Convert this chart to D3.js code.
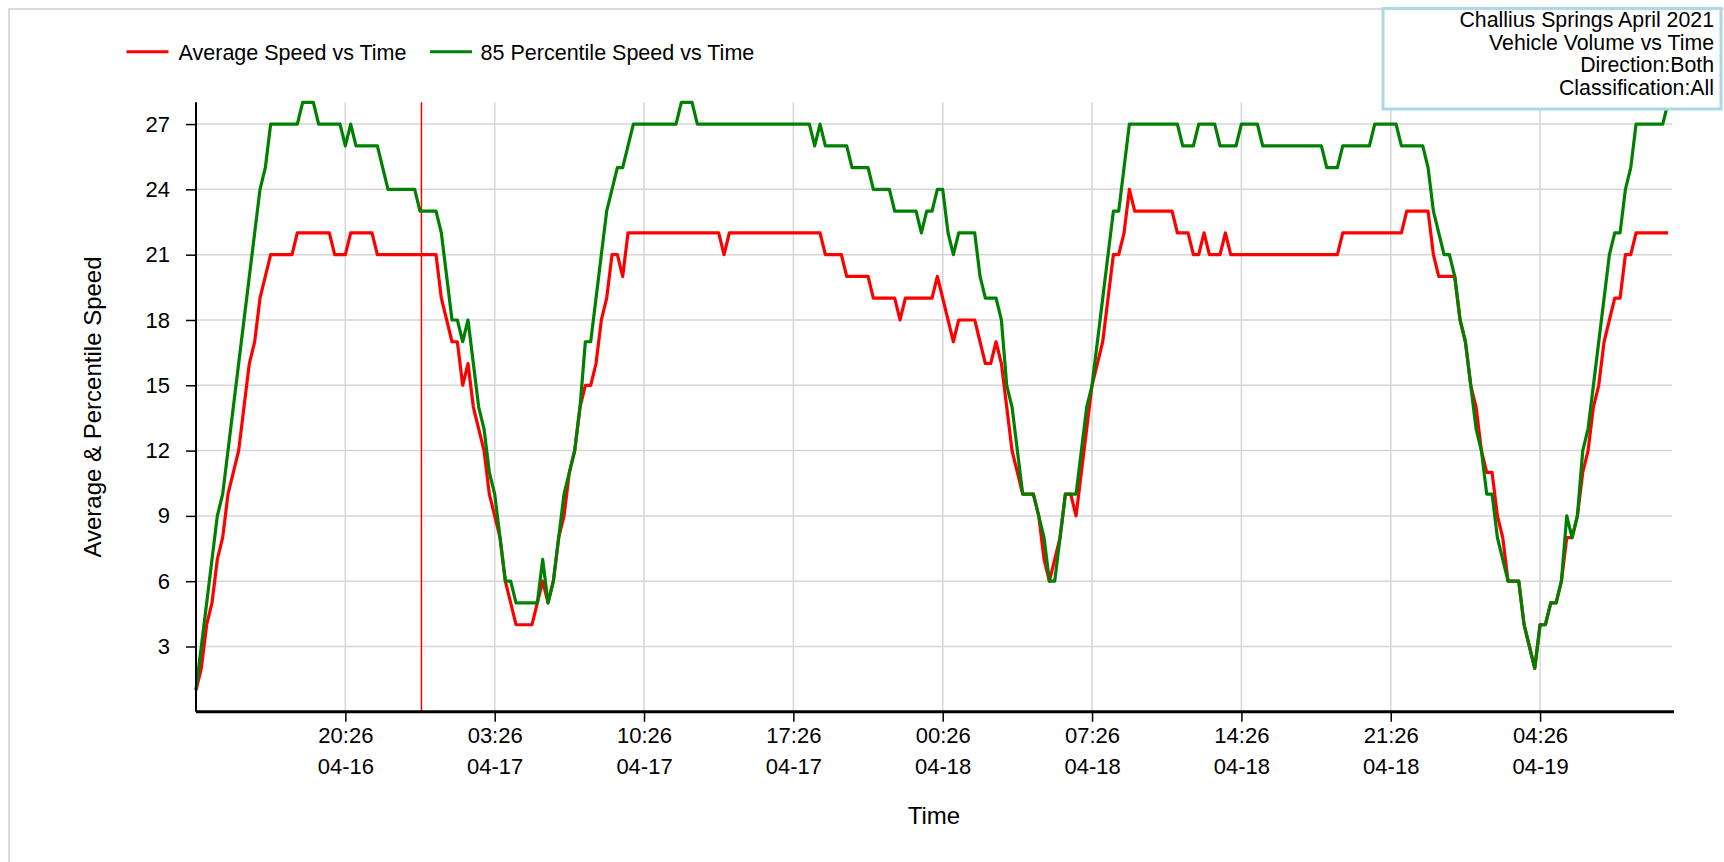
<!DOCTYPE html>
<html>
<head>
<meta charset="utf-8">
<script src="https://cdn.jsdelivr.net/npm/d3@7"></script>
<style>
  body { margin: 0; background: #fff; }
  svg { display: block; }
  text { font-family: "Liberation Sans", Arial, sans-serif; fill: #000; }
</style>
</head>
<body>
<svg id="chart" width="1724" height="862"></svg>
<script>
// ---------------- DATA ----------------
const startTime = "2021-04-16 13:26";   // first sample
const sampleMinutes = 15;                // one sample every 15 minutes

const avgSpeed = [
  1,2,4,5,7,8,10,11,12,14,
  16,17,19,20,21,21,21,21,21,22,
  22,22,22,22,22,22,21,21,21,22,
  22,22,22,22,21,21,21,21,21,21,
  21,21,21,21,21,21,19,18,17,17,
  15,16,14,13,12,10,9,8,6,5,
  4,4,4,4,5,6,5,6,8,9,
  11,12,14,15,15,16,18,19,21,21,
  20,22,22,22,22,22,22,22,22,22,
  22,22,22,22,22,22,22,22,22,21,
  22,22,22,22,22,22,22,22,22,22,
  22,22,22,22,22,22,22,22,21,21,
  21,21,20,20,20,20,20,19,19,19,
  19,19,18,19,19,19,19,19,19,20,
  19,18,17,18,18,18,18,17,16,16,
  17,16,14,12,11,10,10,10,9,7,
  6,7,8,10,10,9,11,13,15,16,
  17,19,21,21,22,24,23,23,23,23,
  23,23,23,23,22,22,22,21,21,22,
  21,21,21,22,21,21,21,21,21,21,
  21,21,21,21,21,21,21,21,21,21,
  21,21,21,21,21,22,22,22,22,22,
  22,22,22,22,22,22,22,23,23,23,
  23,23,21,20,20,20,20,18,17,15,
  14,12,11,11,9,8,6,6,6,4,
  3,2,4,4,5,5,6,8,8,9,
  11,12,14,15,17,18,19,19,21,21,
  22,22,22,22,22,22,22
];

const p85Speed = [
  1,3,5,7,9,10,12,14,16,18,
  20,22,24,25,27,27,27,27,27,27,
  28,28,28,27,27,27,27,27,26,27,
  26,26,26,26,26,25,24,24,24,24,
  24,24,23,23,23,23,22,20,18,18,
  17,18,16,14,13,11,10,8,6,6,
  5,5,5,5,5,7,5,6,8,10,
  11,12,14,17,17,19,21,23,24,25,
  25,26,27,27,27,27,27,27,27,27,
  27,28,28,28,27,27,27,27,27,27,
  27,27,27,27,27,27,27,27,27,27,
  27,27,27,27,27,27,26,27,26,26,
  26,26,26,25,25,25,25,24,24,24,
  24,23,23,23,23,23,22,23,23,24,
  24,22,21,22,22,22,22,20,19,19,
  19,18,15,14,12,10,10,10,9,8,
  6,6,8,10,10,10,12,14,15,17,
  19,21,23,23,25,27,27,27,27,27,
  27,27,27,27,27,26,26,26,27,27,
  27,27,26,26,26,26,27,27,27,27,
  26,26,26,26,26,26,26,26,26,26,
  26,26,25,25,25,26,26,26,26,26,
  26,27,27,27,27,27,26,26,26,26,
  26,25,23,22,21,21,20,18,17,15,
  13,12,10,10,8,7,6,6,6,4,
  3,2,4,4,5,5,6,9,8,9,
  12,13,15,17,19,21,22,22,24,25,
  27,27,27,27,27,27,28
];

const xTickTimes = [
  "2021-04-16 20:26","2021-04-17 03:26","2021-04-17 10:26",
  "2021-04-17 17:26","2021-04-18 00:26","2021-04-18 07:26",
  "2021-04-18 14:26","2021-04-18 21:26","2021-04-19 04:26"
];
const yTicks = [3,6,9,12,15,18,21,24,27];
const xDomain = ["2021-04-16 13:26","2021-04-19 10:37"];
const yDomain = [0, 28];
const markerTime = "2021-04-17 00:00";

const seriesNames = ["Average Speed vs Time", "85 Percentile Speed vs Time"];
const seriesColors = ["#ff0000", "#008000"];
const titleLines = ["Challius Springs April 2021","Vehicle Volume vs Time","Direction:Both","Classification:All"];
const xTitle = "Time";
const yTitle = "Average & Percentile Speed";

// ---------------- DRAW ----------------
const parse = d3.timeParse("%Y-%m-%d %H:%M");
const t0 = parse(startTime);
const svg = d3.select("#chart");
const plot = { left: 196, right: 1672, top: 102.3, bottom: 711.8 };

const x = d3.scaleTime().domain(xDomain.map(parse)).range([plot.left, plot.right]);
const y = d3.scaleLinear().domain(yDomain).range([plot.bottom, plot.top]);

const toPoints = arr => arr.map((v, i) => ({ t: d3.timeMinute.offset(t0, i * sampleMinutes), v }));
const series = [toPoints(avgSpeed), toPoints(p85Speed)];
const xTicks = xTickTimes.map(parse);

// chart control border (left & top visible)
svg.append("path").attr("d", "M9,862 V9 H1724")
  .attr("fill", "none").attr("stroke", "#cfcfcf").attr("stroke-width", 1.5);

// gridlines
const grid = svg.append("g");
grid.selectAll("line.h").data(yTicks).join("line")
  .attr("x1", plot.left).attr("x2", plot.right)
  .attr("y1", d => y(d)).attr("y2", d => y(d))
  .attr("stroke", "#d6d6d6").attr("stroke-width", 1.5);
grid.selectAll("line.v").data(xTicks).join("line")
  .attr("x1", d => x(d)).attr("x2", d => x(d))
  .attr("y1", plot.top).attr("y2", plot.bottom)
  .attr("stroke", "#d6d6d6").attr("stroke-width", 1.5);

// marker line
const mt = parse(markerTime);
svg.append("line")
  .attr("x1", x(mt)).attr("x2", x(mt))
  .attr("y1", plot.top).attr("y2", plot.bottom)
  .attr("stroke", "#ff0000").attr("stroke-width", 1.5);

// series
const line = d3.line().x(d => x(d.t)).y(d => y(d.v));
series.forEach((s, k) => {
  svg.append("path").datum(s)
    .attr("d", line)
    .attr("fill", "none")
    .attr("stroke", seriesColors[k])
    .attr("stroke-width", 3.2)
    .attr("stroke-linejoin", "round");
});

// x axis
const fmtTime = d3.timeFormat("%H:%M"), fmtDay = d3.timeFormat("%m-%d");
const xAxis = d3.axisBottom(x).tickValues(xTicks).tickSize(10).tickFormat("");
const gx = svg.append("g").attr("transform", `translate(0,${plot.bottom})`).call(xAxis);
gx.select(".domain").attr("stroke", "#000").attr("stroke-width", 3)
  .attr("d", `M${plot.left},0H${plot.right + 2}`);
gx.selectAll(".tick line").attr("stroke", "#000").attr("stroke-width", 1.5);
gx.selectAll(".tick").each(function(d) {
  const g = d3.select(this);
  g.append("text").attr("x", 0).attr("y", 31.5).attr("text-anchor", "middle")
    .style("font-size", "22px").text(fmtTime(d));
  g.append("text").attr("x", 0).attr("y", 62.5).attr("text-anchor", "middle")
    .style("font-size", "22px").text(fmtDay(d));
});

// y axis
const yAxis = d3.axisLeft(y).tickValues(yTicks).tickSize(10).tickPadding(16);
const gy = svg.append("g").attr("transform", `translate(${plot.left},0)`).call(yAxis);
gy.select(".domain").attr("stroke", "#000").attr("stroke-width", 2)
  .attr("d", `M0,${plot.top}V${plot.bottom}`);
gy.selectAll(".tick line").attr("stroke", "#000").attr("stroke-width", 1.5);
gy.selectAll(".tick text").style("font-size", "22px").attr("fill", "#000")
  .style("font-family", "'Liberation Sans', Arial, sans-serif");

// axis titles
svg.append("text").attr("x", (plot.left + plot.right) / 2).attr("y", 824)
  .attr("text-anchor", "middle").style("font-size", "24px").text(xTitle);
svg.append("text").attr("transform", "translate(92,407) rotate(-90)")
  .attr("text-anchor", "middle").attr("dominant-baseline", "central")
  .style("font-size", "24px").text(yTitle);

// legend
const legendItems = [
  { x1: 126.5, x2: 168.5, tx: 178.6 },
  { x1: 430, x2: 472, tx: 480.6 }
];
legendItems.forEach((it, k) => {
  svg.append("line").attr("x1", it.x1).attr("x2", it.x2).attr("y1", 51.7).attr("y2", 51.7)
    .attr("stroke", seriesColors[k]).attr("stroke-width", 3);
  svg.append("text").attr("x", it.tx).attr("y", 52).attr("dy", "0.36em")
    .style("font-size", "21.5px").text(seriesNames[k]);
});

// title box
svg.append("rect").attr("x", 1383).attr("y", 8.5).attr("width", 338).attr("height", 100.5)
  .attr("fill", "#fff").attr("stroke", "#add8e6").attr("stroke-width", 3);
titleLines.forEach((s, i) => {
  svg.append("text").attr("x", 1714).attr("y", 27 + i * 22.7)
    .attr("text-anchor", "end").style("font-size", "21.3px").text(s);
});
</script>
</body>
</html>
